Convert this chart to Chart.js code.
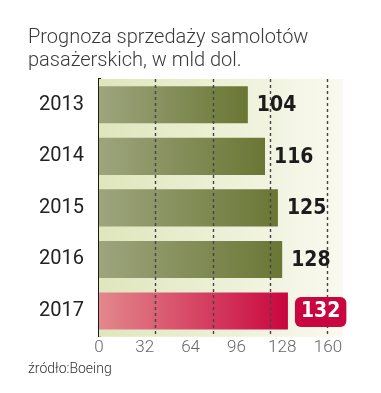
<!DOCTYPE html>
<html>
<head>
<meta charset="utf-8">
<script src="https://cdn.jsdelivr.net/npm/chart.js@4.4.0/dist/chart.umd.min.js"></script>
<style>
  html, body { margin: 0; padding: 0; background: #fff; }
  #wrap { width: 381px; height: 393px; }
</style>
</head>
<body>
<div id="wrap"><canvas id="chart"></canvas></div>
<script>
// data
const years = ["2013", "2014", "2015", "2016", "2017"];
const sales = [104, 116, 125, 128, 132];
const highlight = [false, false, false, false, true];
const tickStep = 32;      // printed tick labels
const gridValues = [40, 80, 120, 160];   // dashed guide lines
const axisMax = 160;

const titleLines = ["Prognoza sprzedaży samolotów", "pasażerskich, w mld dol."];
const sourceText = "źródło:Boeing";

const colors = {
    greenLight: "#9ea57e",
    greenDark: "#6a7634",
    redLight: "#e3888c",
    redDark: "#c9063f",
    bgLeft: "#dfe6bc",
    bgRight: "#fafaf1",
    badge: "#c9063f"
};

function barFill(ctx) {
    const chart = ctx.chart;
    const area = chart.chartArea;
    if (!area) return colors.greenDark;
    const i = ctx.dataIndex;
    const end = chart.scales.x.getPixelForValue(sales[i]);
    const g = chart.ctx.createLinearGradient(area.left, 0, end, 0);
    if (highlight[i]) {
        g.addColorStop(0, colors.redLight);
        g.addColorStop(1, colors.redDark);
    } else {
        g.addColorStop(0, colors.greenLight);
        g.addColorStop(1, colors.greenDark);
    }
    return g;
}

const backdrop = {
    id: "backdrop",
    beforeDatasetsDraw(chart) {
        const { ctx, chartArea: a } = chart;
        const g = ctx.createLinearGradient(a.left, 0, a.right + 20, 0);
        g.addColorStop(0, colors.bgLeft);
        g.addColorStop(1, colors.bgRight);
        ctx.save();
        ctx.fillStyle = g;
        ctx.fillRect(a.left, a.top, a.right - a.left + 15, a.bottom - a.top);
        ctx.restore();
    }
};

// dashed guides sit on top of the bars
const guides = {
    id: "guides",
    afterDatasetsDraw(chart) {
        const { ctx, chartArea: a } = chart;
        const x = chart.scales.x;
        ctx.save();
        ctx.strokeStyle = "#444";
        ctx.lineWidth = 1.4;
        ctx.setLineDash([3, 3]);
        gridValues.forEach(v => {
            const px = Math.round(x.getPixelForValue(v)) - 0.5;
            ctx.beginPath();
            ctx.moveTo(px, a.top);
            ctx.lineTo(px, a.bottom);
            ctx.stroke();
        });
        ctx.restore();
    }
};

const valueLabels = {
    id: "valueLabels",
    afterDraw(chart) {
        const { ctx } = chart;
        const meta = chart.getDatasetMeta(0);
        ctx.save();
        ctx.font = "bold 21px 'Liberation Sans Narrow', 'DejaVu Sans Condensed', Roboto, sans-serif";
        ctx.textBaseline = "middle";
        meta.data.forEach((bar, i) => {
            const txt = String(sales[i]);
            const y = bar.y + 1;
            if (highlight[i]) {
                const x = bar.x + 7;
                const w = ctx.measureText(txt).width;
                ctx.fillStyle = colors.badge;
                ctx.beginPath();
                ctx.roundRect(x, y - 15, w + 12, 30, 6);
                ctx.fill();
                ctx.fillStyle = "#fff";
                ctx.fillText(txt, x + 6, y);
            } else {
                ctx.fillStyle = "#1c1c1c";
                ctx.fillText(txt, bar.x + 9, y);
            }
        });
        ctx.restore();
    }
};

new Chart(document.getElementById("chart"), {
    type: "bar",
    data: {
        labels: years,
        datasets: [{
            data: sales,
            backgroundColor: barFill,
            borderWidth: 0,
            categoryPercentage: 1,
            barPercentage: 0.72
        }]
    },
    options: {
        indexAxis: "y",
        responsive: true,
        maintainAspectRatio: false,
        animation: false,
        layout: { padding: { left: 28, right: 53, top: 0, bottom: 0 } },
        scales: {
            x: {
                min: 0,
                max: axisMax,
                grid: { display: false, drawTicks: false },
                border: { display: false },
                ticks: {
                    stepSize: tickStep,
                    color: "#666",
                    padding: 1,
                    font: { family: "Roboto", size: 17, weight: 300 }
                }
            },
            y: {
                grid: { display: false },
                border: { color: "#1a1a1a", width: 3 },
                ticks: {
                    color: "#222",
                    padding: 7,
                    font: { family: "Roboto", size: 20, weight: 400 }
                },
                afterFit: s => { s.width = 71; }
            }
        },
        plugins: {
            legend: { display: false },
            tooltip: { enabled: false },
            title: {
                display: true,
                text: titleLines,
                align: "start",
                color: "#3a3a3a",
                padding: { top: 26, bottom: 7 },
                font: { family: "Roboto", size: 20, weight: 300, lineHeight: 1.15 }
            },
            subtitle: {
                display: true,
                text: sourceText,
                position: "bottom",
                align: "start",
                color: "#333",
                padding: { top: 2, bottom: 15 },
                font: { family: "Roboto", size: 14, weight: 300 }
            }
        }
    },
    plugins: [backdrop, guides, valueLabels]
});
</script>
</body>
</html>
